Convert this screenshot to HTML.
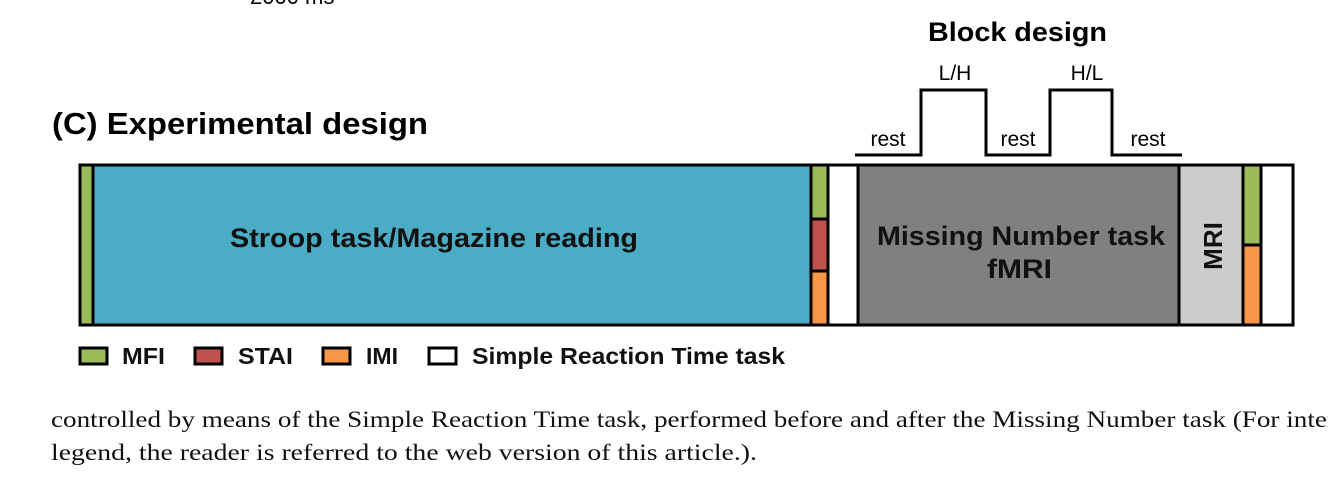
<!DOCTYPE html>
<html><head><meta charset="utf-8"><style>
html,body{margin:0;padding:0;background:#fff;width:1328px;height:478px;overflow:hidden}
</style></head><body>
<svg width="1328" height="478" viewBox="0 0 1328 478" xmlns="http://www.w3.org/2000/svg">
<g font-family="Liberation Sans, Arial, sans-serif">
<text x="250" y="4" font-size="22" fill="#000">2000 ms</text>
<text x="52" y="134" font-size="31" font-weight="bold" fill="#000" textLength="376" lengthAdjust="spacingAndGlyphs">(C) Experimental design</text>
<text x="928" y="41" font-size="27" font-weight="bold" textLength="179" lengthAdjust="spacingAndGlyphs">Block design</text>
<text x="955" y="80" font-size="21" text-anchor="middle">L/H</text>
<text x="1087" y="80" font-size="21" text-anchor="middle">H/L</text>
<text x="888" y="146" font-size="21" text-anchor="middle">rest</text>
<text x="1018" y="146" font-size="21" text-anchor="middle">rest</text>
<text x="1148" y="146" font-size="21" text-anchor="middle">rest</text>
<polyline points="855,155 921,155 921,90 986,90 986,155 1050,155 1050,90 1112,90 1112,155 1182,155" fill="none" stroke="#000" stroke-width="3"/>
<g stroke="#000" stroke-width="3">
<rect x="80" y="165" width="13" height="160" fill="#9bbb59"/>
<rect x="93" y="165" width="718" height="160" fill="#4bacc6"/>
<rect x="811" y="165" width="17" height="54" fill="#9bbb59"/>
<rect x="811" y="219" width="17" height="52" fill="#c0504d"/>
<rect x="811" y="271" width="17" height="54" fill="#f79646"/>
<rect x="828" y="165" width="30" height="160" fill="#fff"/>
<rect x="858" y="165" width="321" height="160" fill="#808080"/>
<rect x="1179" y="165" width="64" height="160" fill="#cccccc"/>
<rect x="1243" y="165" width="18" height="80" fill="#9bbb59"/>
<rect x="1243" y="245" width="18" height="80" fill="#f79646"/>
<rect x="1261" y="165" width="32" height="160" fill="#fff"/>
</g>
<text x="230" y="247" font-size="27" font-weight="bold" fill="#111" textLength="408" lengthAdjust="spacingAndGlyphs">Stroop task/Magazine reading</text>
<text x="877" y="245" font-size="27" font-weight="bold" fill="#111" textLength="288" lengthAdjust="spacingAndGlyphs">Missing Number task</text>
<text x="987" y="278" font-size="27" font-weight="bold" fill="#111" textLength="65" lengthAdjust="spacingAndGlyphs">fMRI</text>
<text transform="translate(1222,246) rotate(-90)" font-size="26" font-weight="bold" text-anchor="middle" fill="#111">MRI</text>
<g stroke="#000" stroke-width="3">
<rect x="80" y="348" width="27" height="16" fill="#9bbb59"/>
<rect x="195" y="348" width="27" height="16" fill="#c0504d"/>
<rect x="323" y="348" width="27" height="16" fill="#f79646"/>
<rect x="429" y="348" width="27" height="16" fill="#fff"/>
</g>
<g font-size="23" font-weight="bold" fill="#111" lengthAdjust="spacingAndGlyphs">
<text x="122" y="364" textLength="43" lengthAdjust="spacingAndGlyphs">MFI</text>
<text x="238" y="364" textLength="55" lengthAdjust="spacingAndGlyphs">STAI</text>
<text x="366" y="364" textLength="32" lengthAdjust="spacingAndGlyphs">IMI</text>
<text x="472" y="364" textLength="313" lengthAdjust="spacingAndGlyphs">Simple Reaction Time task</text>
</g>
</g>
<g font-family="Liberation Serif, 'Times New Roman', serif" font-size="23" fill="#111">
<text x="51" y="427" textLength="1285" lengthAdjust="spacingAndGlyphs">controlled by means of the Simple Reaction Time task, performed before and after the Missing Number task (For inter</text>
<text x="51" y="460" textLength="706" lengthAdjust="spacingAndGlyphs">legend, the reader is referred to the web version of this article.).</text>
</g>
</svg>
</body></html>
